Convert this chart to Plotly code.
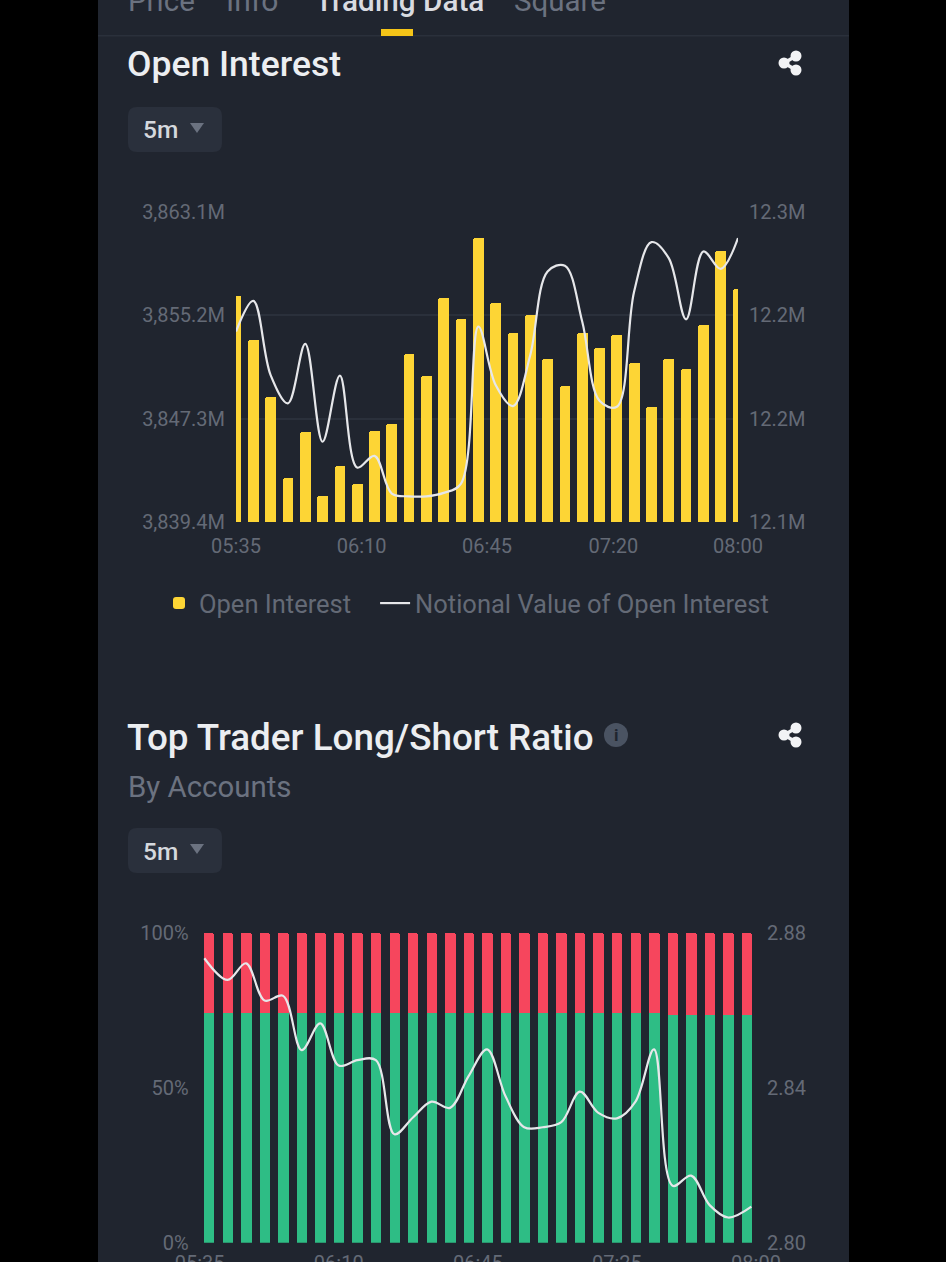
import plotly.graph_objects as go

W, H = 946, 1262

# ---------- data ----------
times = ["05:35","05:40","05:45","05:50","05:55","06:00","06:05","06:10","06:15","06:20",
         "06:25","06:30","06:35","06:40","06:45","06:50","06:55","07:00","07:05","07:10",
         "07:15","07:20","07:25","07:30","07:35","07:40","07:45","07:50","07:55","08:00"]
open_interest = [3856.69,3853.32,3848.93,3842.80,3846.27,3841.37,3843.66,3842.31,3846.32,3846.86,
                 3852.25,3850.59,3856.56,3854.90,3861.11,3856.13,3853.83,3855.23,3851.86,3849.79,
                 3853.83,3852.68,3853.70,3851.53,3848.21,3851.86,3851.10,3854.49,3860.14,3857.20]
notional_value = [12.2306,12.2484,12.2053,12.1889,12.2234,12.1666,12.2050,12.1516,12.1584,12.1365,
                  12.1349,12.1349,12.1369,12.1423,12.2335,12.1995,12.1873,12.2170,12.2655,12.2688,
                  12.2364,12.1904,12.1869,12.2538,12.2825,12.2732,12.2377,12.2771,12.2670,12.2849]
oi_ticks = [3839.4, 3847.3, 3855.2, 3863.1]
oi_tick_text = ["3,839.4M","3,847.3M","3,855.2M","3,863.1M"]
nv_ticks = [12.12, 12.18, 12.24, 12.30]
nv_tick_text = ["12.1M","12.2M","12.2M","12.3M"]
x1_tick_pos = [0, 7.26, 14.5, 21.8, 29]
x1_tick_text = ["05:35","06:10","06:45","07:20","08:00"]

long_pct = [74.2]*25 + [73.7]*5
short_pct = [25.8]*25 + [26.3]*5
ratio = [2.8734,2.8678,2.8721,2.8625,2.8637,2.8497,2.8566,2.8457,2.8471,2.8471,
         2.8280,2.8323,2.8364,2.8348,2.8430,2.8499,2.8377,2.8298,2.8298,2.8311,
         2.8390,2.8335,2.8321,2.8364,2.8499,2.8147,2.8173,2.8097,2.8065,2.8093]
pct_ticks = [0, 50, 100]
pct_tick_text = ["0%","50%","100%"]
ratio_ticks = [2.80, 2.84, 2.88]
ratio_tick_text = ["2.80","2.84","2.88"]
x2_tick_pos = [-0.5, 7, 14.5, 22, 29.5]
x2_tick_text = ["05:35","06:10","06:45","07:25","08:00"]

# ---------- style ----------
BG = "#20252f"
YELLOW = "#fdd535"
GREEN = "#2ebd85"
RED = "#f6465d"
LINE = "#e6e7ea"
TICK = "#646a76"
GRID = "#2a303b"
FONT = "Roboto"

def fx(p): return p / W
def fy(p): return 1 - p / H

idx = list(range(len(times)))
ratio_x = [-0.25] + idx[1:-1] + [29.25]   # the ratio line runs from bar edge to bar edge
fig = go.Figure()
fig.add_bar(x=idx, y=open_interest, name="Open Interest\u00a0\u00a0\u00a0", width=0.62,
            marker=dict(color=YELLOW, line_width=0), xaxis="x", yaxis="y")
fig.add_scatter(x=idx, y=notional_value, name="Notional Value of Open Interest", mode="lines",
                line=dict(color=LINE, width=2.2, shape="spline", smoothing=1), xaxis="x", yaxis="y2")
fig.add_bar(x=idx, y=long_pct, name="Long", width=0.56, showlegend=False,
            marker=dict(color=GREEN, line_width=0), xaxis="x2", yaxis="y3")
fig.add_bar(x=idx, y=short_pct, name="Short", width=0.56, showlegend=False,
            marker=dict(color=RED, line_width=0), xaxis="x2", yaxis="y3")
fig.add_scatter(x=ratio_x, y=ratio, name="Long/Short Ratio", mode="lines", showlegend=False,
                line=dict(color=LINE, width=2.2, shape="spline", smoothing=1), xaxis="x2", yaxis="y4")

tickfont = dict(family=FONT, size=20, color=TICK)
def axis(**kw):
    base = dict(showline=False, zeroline=False, tickfont=tickfont, ticks="outside",
                tickcolor="rgba(0,0,0,0)", ticklen=6, tickwidth=1, tickmode="array", showgrid=False)
    base.update(kw)
    return base

shapes = []
def rect(x0, y0, x1, y1, color, layer="below"):
    shapes.append(dict(type="rect", xref="paper", yref="paper", x0=fx(x0), x1=fx(x1), y0=fy(y1), y1=fy(y0),
                       fillcolor=color, line_width=0, layer=layer))
def circle(cx, cy, r, color):
    shapes.append(dict(type="circle", xref="paper", yref="paper", x0=fx(cx-r), x1=fx(cx+r), y0=fy(cy+r), y1=fy(cy-r),
                       fillcolor=color, line_width=0, layer="below"))
def seg(x0, y0, x1, y1, color, w):
    shapes.append(dict(type="line", xref="paper", yref="paper", x0=fx(x0), x1=fx(x1), y0=fy(y0), y1=fy(y1),
                       line=dict(color=color, width=w), layer="below"))
def path(pts, color):
    d = "M" + " L".join(f"{fx(a):.5f},{fy(b):.5f}" for a, b in pts) + " Z"
    shapes.append(dict(type="path", xref="paper", yref="paper", path=d, fillcolor=color, line_width=0, layer="below"))
def rounded(x0, y0, x1, y1, r, color):
    n = r
    d = (f"M{fx(x0+n):.5f},{fy(y0):.5f} L{fx(x1-n):.5f},{fy(y0):.5f} Q{fx(x1):.5f},{fy(y0):.5f} {fx(x1):.5f},{fy(y0+n):.5f} "
         f"L{fx(x1):.5f},{fy(y1-n):.5f} Q{fx(x1):.5f},{fy(y1):.5f} {fx(x1-n):.5f},{fy(y1):.5f} "
         f"L{fx(x0+n):.5f},{fy(y1):.5f} Q{fx(x0):.5f},{fy(y1):.5f} {fx(x0):.5f},{fy(y1-n):.5f} "
         f"L{fx(x0):.5f},{fy(y0+n):.5f} Q{fx(x0):.5f},{fy(y0):.5f} {fx(x0+n):.5f},{fy(y0):.5f} Z")
    shapes.append(dict(type="path", xref="paper", yref="paper", path=d, fillcolor=color, line_width=0, layer="below"))

rect(98, 0, 849, H, BG)
rect(98, 35, 849, 36.5, GRID)
rect(381, 29, 413, 36, "#f5c518")

def share(dy):
    for a, b in [((796, 56+dy), (784, 63+dy)), ((784, 63+dy), (796, 70+dy))]:
        seg(a[0], a[1], b[0], b[1], "#f2f3f5", 3.5)
    for c in [(796, 56+dy), (784, 63+dy), (796, 70+dy)]:
        circle(c[0], c[1], 5.5, "#f2f3f5")
share(0); share(672)

def dropdown(y):
    rounded(128, y, 222, y+45, 9, "#2a303c")
    path([(190, y+16), (204, y+16), (197, y+26)], "#6b7280")
dropdown(107); dropdown(828)
circle(616, 735, 12, "#4a5362")

ann = []
def text(x, y, s, size, color, weight=400, anchor="left"):
    ann.append(dict(xref="paper", yref="paper", x=fx(x), y=fy(y), text=s, showarrow=False,
                    xanchor=anchor, yanchor="middle", xshift=0, borderpad=0, borderwidth=0,
                    font=dict(family=FONT, size=size, color=color, weight=weight)))
text(128, 1, "Price", 29.5, "#6b7280")
text(226, 1, "Info", 30, "#6b7280")
text(315, 1, "Trading Data", 29.7, "#d9dbe0", 500)
text(514, 1, "Square", 29.5, "#6b7280")
text(127, 64, "Open Interest", 35.5, "#eceef1", 500)
text(143, 130, "5m", 24.5, "#d5d8dd", 500)
text(127, 737, "Top Trader Long/Short Ratio", 36.8, "#eceef1", 500)
text(128, 787, "By Accounts", 29.4, "#6b7280")
text(143, 851, "5m", 24.5, "#d5d8dd", 500)
text(616, 735, "i", 17, BG, 700, "center")

fig.update_layout(
    width=W, height=H, autosize=False,
    margin=dict(l=0, r=0, t=0, b=0, autoexpand=False),
    paper_bgcolor="#000000", plot_bgcolor="rgba(0,0,0,0)",
    barmode="stack", barcornerradius=2, bargap=0,
    shapes=shapes, annotations=ann,
    showlegend=True,
    legend=dict(orientation="h", x=fx(159), y=fy(603.5), xanchor="left", yanchor="middle",
                bgcolor="rgba(0,0,0,0)", font=dict(family=FONT, size=25.5, color=TICK),
                itemclick=False, itemdoubleclick=False, traceorder="normal"),
    xaxis=axis(domain=[fx(236), fx(738)], range=[0, 29], tickvals=x1_tick_pos, ticktext=x1_tick_text,
               anchor="y", ticklen=6),
    yaxis=axis(domain=[fy(522), fy(212)], range=[3839.4, 3863.1], tickvals=oi_ticks, ticktext=oi_tick_text,
               showgrid=True, gridcolor=GRID, gridwidth=1.5, anchor="x"),
    yaxis2=axis(domain=[fy(522), fy(212)], range=[12.12, 12.30], tickvals=nv_ticks, ticktext=nv_tick_text,
                overlaying="y", side="right", anchor="x"),
    xaxis2=axis(domain=[fx(199.7), fx(756)], range=[-0.5, 29.5], tickvals=x2_tick_pos, ticktext=x2_tick_text,
                anchor="y3", ticklen=2),
    yaxis3=axis(domain=[fy(1242.7), fy(932.7)], range=[0, 100], tickvals=pct_ticks, ticktext=pct_tick_text,
                anchor="x2"),
    yaxis4=axis(domain=[fy(1242.7), fy(932.7)], range=[2.80, 2.88], tickvals=ratio_ticks, ticktext=ratio_tick_text,
                overlaying="y3", side="right", anchor="x2"),
)

fig.write_html("out.html", config=dict(displayModeBar=False),
               post_script="document.body.style.margin='0';document.body.style.overflow='hidden';")
